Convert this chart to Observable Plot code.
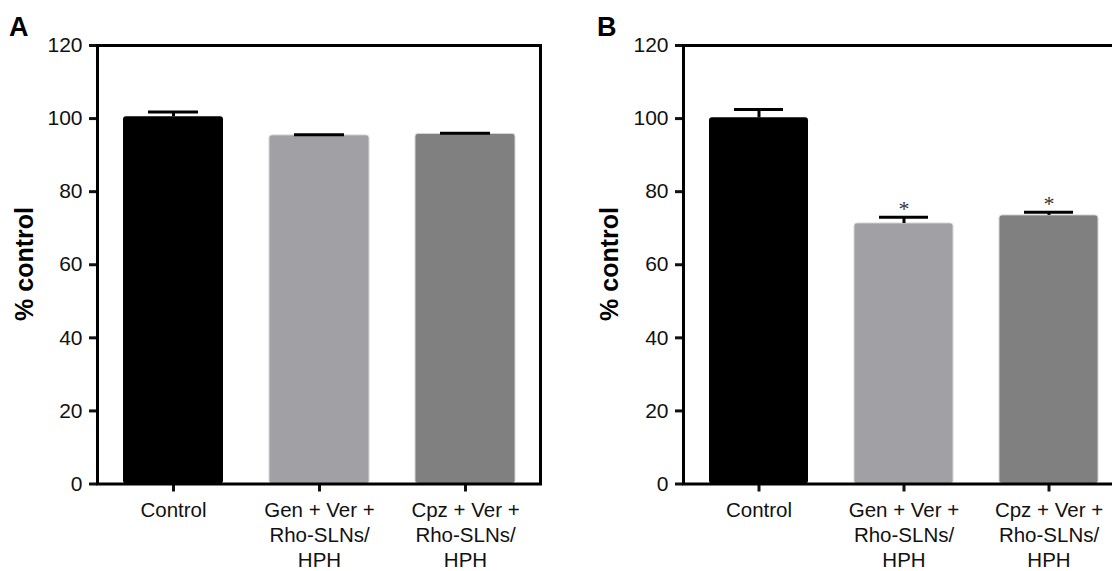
<!DOCTYPE html>
<html>
<head>
<meta charset="utf-8">
<script src="https://cdn.jsdelivr.net/npm/d3@7"></script>
<script src="https://cdn.jsdelivr.net/npm/@observablehq/plot@0.6"></script>
<style>
  html, body { margin: 0; padding: 0; background: #fff; }
  #wrap { position: relative; width: 1112px; height: 571px; overflow: hidden; font-family: "Liberation Sans", Arial, sans-serif; }
  #wrap svg { max-width: none !important; background: transparent !important; }
  .panel { position: absolute; top: 0; }
  .letter { position: absolute; font-weight: bold; font-size: 27px; line-height: 1; z-index: 5; }
  .ylab { position: absolute; font-weight: bold; font-size: 25px; white-space: nowrap; transform: translate(-50%, -50%) rotate(-90deg); z-index: 5; }
</style>
</head>
<body>
<div id="wrap">
  <div id="pA" class="panel" style="left:0px; width:556px;"></div>
  <div id="pB" class="panel" style="left:556px; width:584px;"></div>
  <div class="letter" style="left:9px; top:14px;">A</div>
  <div class="letter" style="left:597px; top:14px;">B</div>
  <div class="ylab" style="left:24px; top:264px;">% control</div>
  <div class="ylab" style="left:609px; top:264px;">% control</div>
</div>
<script>
const categories = ["Control", "Gen", "Cpz"];
const tickLabels = ["Control", "Gen + Ver +\nRho-SLNs/\nHPH", "Cpz + Ver +\nRho-SLNs/\nHPH"];
const colors = ["#000000", "#a1a1a5", "#808080"];
const yTicks = [0, 20, 40, 60, 80, 100, 120];

const meansA = [100.5, 95.4, 95.8];
const errsA  = [1.3, 0.2, 0.2];
const sigA   = [false, false, false];

const meansB = [100.2, 71.3, 73.5];
const errsB  = [2.3, 1.7, 0.9];
const sigB   = [false, true, true];

function build(means, errs, sig) {
  return categories.map((c, i) => ({cat: c, label: tickLabels[i], color: colors[i], mean: means[i], top: means[i] + errs[i], sig: sig[i]}));
}

function panel(data, width, marginLeft, marginRight) {
  return Plot.plot({
    width, height: 571,
    marginLeft, marginRight, marginTop: 45, marginBottom: 87.5,
    style: {fontFamily: "'Liberation Sans', Arial, sans-serif", fontSize: "21px", color: "#111", background: "transparent", maxWidth: "none"},
    x: {domain: categories, paddingInner: 0.317, paddingOuter: 0.17, label: null},
    y: {domain: [0, 120], label: null},
    color: {type: "identity"},
    marks: [
      Plot.barY(data, {x: "cat", y: "mean", fill: "color", rx: 3, stroke: d => d.cat === "Control" ? "none" : "#d6d6d9", strokeWidth: 1}),
      Plot.ruleX(data, {x: "cat", y1: "mean", y2: "top", stroke: "black", strokeWidth: 3}),
      Plot.tickY(data, {x: "cat", y: "top", stroke: "black", strokeWidth: 3, insetLeft: 25, insetRight: 25}),
      Plot.text(data.filter(d => d.sig), {x: "cat", y: "top", text: () => "*", fontFamily: "'Liberation Serif', 'DejaVu Serif', serif", fontSize: 22, fill: "#333", lineAnchor: "bottom", dy: -1}),
      Plot.axisY({ticks: yTicks, tickSize: 8, tickPadding: 7, strokeWidth: 3, label: null, fontSize: 21}),
      Plot.axisX({tickSize: 8, tickPadding: 8, strokeWidth: 3, label: null, fontSize: 20.5, lineHeight: 1.2,
        tickFormat: c => tickLabels[categories.indexOf(c)]}),
      Plot.frame({stroke: "black", strokeWidth: 3})
    ]
  });
}

document.getElementById("pA").append(panel(build(meansA, errsA, sigA), 556, 97, 16));
document.getElementById("pB").append(panel(build(meansB, errsB, sigB), 584, 127, 16));
</script>
</body>
</html>
